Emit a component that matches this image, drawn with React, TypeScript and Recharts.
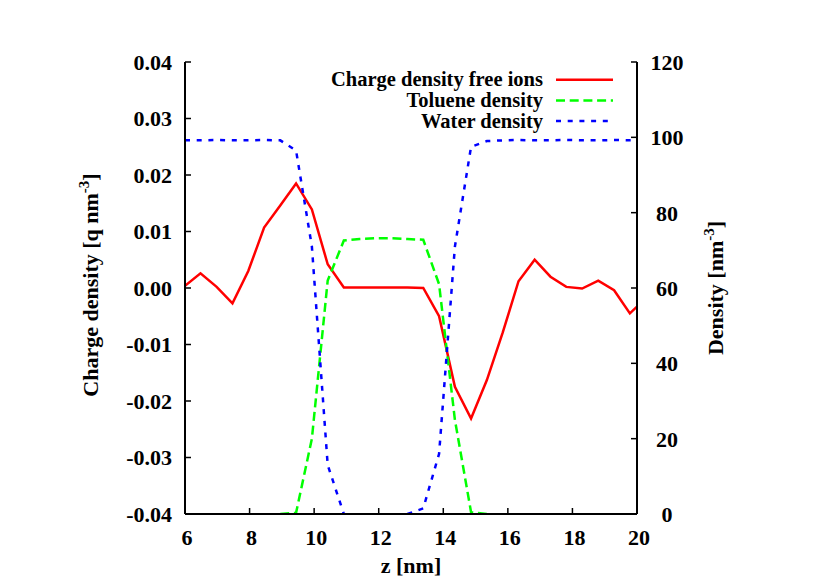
import React from 'react';
import { ComposedChart, Line, XAxis, YAxis, Legend, Label } from 'recharts';

// ---- data ----
const zValues = [6.0, 6.48, 6.98, 7.47, 7.96, 8.45, 8.95, 9.44, 9.93, 10.42, 10.92, 11.41, 11.9, 12.39, 12.89, 13.38, 13.87, 14.36, 14.86, 15.35, 15.84, 16.33, 16.83, 17.32, 17.81, 18.3, 18.8, 19.29, 19.78, 20.0];
const chargeDensity = [0.0004, 0.0026, 0.0002, -0.0027, 0.003, 0.0107, 0.0146, 0.0185, 0.0139, 0.0042, 0.0001, 0.0001, 0.0001, 0.0001, 0.0001, 0.0, -0.005, -0.0175, -0.0231, -0.0163, -0.0079, 0.0012, 0.005, 0.002, 0.0002, -0.0001, 0.0013, -0.0004, -0.0045, -0.0033];
const tolueneDensity: (number | null)[] = [null, null, null, null, null, null, 0, 0.3, 20, 62, 72.6, 73, 73.2, 73.2, 73, 72.8, 61, 25, 0.5, 0, null, null, null, null, null, null, null, null, null, null];
const waterDensity: (number | null)[] = [99.2, 99.2, 99.3, 99.2, 99.2, 99.3, 99.2, 96.5, 71, 13, 0, null, null, null, 0, 1.5, 16, 71, 97.5, 99, 99.2, 99.3, 99.2, 99.2, 99.3, 99.2, 99.2, 99.3, 99.2, 99.2];

const xTicks = [6, 8, 10, 12, 14, 16, 18, 20];
const leftTicks = [-0.04, -0.03, -0.02, -0.01, 0, 0.01, 0.02, 0.03, 0.04];
const rightTicks = [0, 20, 40, 60, 80, 100, 120];
const seriesNames = ['Charge density free ions', 'Toluene density', 'Water density'];
const titleText = '60 mV/nm';

const data = zValues.map((z, i) => ({
  z,
  charge: chargeDensity[i],
  toluene: tolueneDensity[i],
  water: waterDensity[i],
}));

// ---- styles ----
const FONT = '"Liberation Serif", "Times New Roman", serif';
const FS = 22;
const seriesStyles = [
  { key: 'charge', color: '#ff0000', dash: undefined as string | undefined, axis: 'left' },
  { key: 'toluene', color: '#00ff00', dash: '9 4.7', axis: 'right' },
  { key: 'water', color: '#0000ff', dash: '5 6.7', axis: 'right' },
];

const textProps = { fontFamily: FONT, fontWeight: 'bold' as const, fontSize: FS, fill: '#000' };

const LeftTick = (props: any) => {
  const { x, y, payload } = props;
  return (
    <text x={x} y={y} dy="0.36em" textAnchor="end" {...textProps}>
      {Number(payload.value).toFixed(2)}
    </text>
  );
};
const RightTick = (props: any) => {
  const { x, y, payload } = props;
  return (
    <text x={x} y={y} dy="0.36em" textAnchor="middle" {...textProps}>
      {String(payload.value)}
    </text>
  );
};
const BottomTick = (props: any) => {
  const { x, y, payload } = props;
  return (
    <text x={x + 2} y={y} dy="0.36em" textAnchor="middle" {...textProps}>
      {String(payload.value)}
    </text>
  );
};

const LegendContent = () => (
  <svg width={330} height={70} style={{ display: 'block' }}>
    {seriesNames.map((name, i) => {
      const s = seriesStyles[i];
      const lineY = 11.7 + i * 20.7;
      return (
        <g key={name}>
          <text x={235} y={lineY + 6.6} textAnchor="end" fontFamily={FONT} fontWeight="bold" fontSize={20.5} fill="#000">
            {name}
          </text>
          <line x1={248} x2={305} y1={lineY} y2={lineY} stroke={s.color} strokeWidth={2.5} strokeDasharray={s.dash} />
        </g>
      );
    })}
  </svg>
);

const axisLineStyle = { stroke: '#000', strokeWidth: 2 };
const tickLineStyle = { stroke: '#000', strokeWidth: 1.5 };

export default function App() {
  return (
    <div style={{ position: 'fixed', left: 0, top: 0, width: 830, height: 581, background: '#fff' }}>
      <ComposedChart
        width={830}
        height={581}
        data={data}
        margin={{ top: 62, right: 133, bottom: 37, left: 125 }}
      >
        <XAxis
          xAxisId="bottom"
          type="number"
          dataKey="z"
          domain={[6, 20]}
          ticks={xTicks}
          allowDataOverflow
          height={30}
          tickSize={-6}
          tickMargin={29}
          tick={<BottomTick />}
          axisLine={axisLineStyle}
          tickLine={tickLineStyle}
        >
          <Label
            content={() => (
              <text x={411} y={573} textAnchor="middle" {...textProps}>
                z [nm]
              </text>
            )}
          />
        </XAxis>
        <XAxis
          xAxisId="top"
          orientation="top"
          type="number"
          dataKey="z"
          domain={[6, 20]}
          ticks={xTicks}
          allowDataOverflow
          height={0}
          tickSize={-6}
          tick={false}
          axisLine={axisLineStyle}
          tickLine={tickLineStyle}
        >
          <Label
            content={() => (
              <text x={411} y={39} textAnchor="middle" {...textProps}>
                {titleText}
              </text>
            )}
          />
        </XAxis>
        <YAxis
          yAxisId="left"
          type="number"
          domain={[-0.04, 0.04]}
          ticks={leftTicks}
          allowDataOverflow
          width={60}
          tickSize={-6}
          tickMargin={19}
          tick={<LeftTick />}
          axisLine={axisLineStyle}
          tickLine={tickLineStyle}
        >
          <Label
            content={() => (
              <text
                x={97.5}
                y={285}
                transform="rotate(-90, 97.5, 285)"
                textAnchor="middle"
                {...textProps}
              >
                Charge density [q nm
                <tspan dy={-9} fontSize={15}>-3</tspan>
                <tspan dy={9}>]</tspan>
              </text>
            )}
          />
        </YAxis>
        <YAxis
          yAxisId="right"
          orientation="right"
          type="number"
          domain={[0, 120]}
          ticks={rightTicks}
          allowDataOverflow
          width={60}
          tickSize={-6}
          tickMargin={36}
          tick={<RightTick />}
          axisLine={axisLineStyle}
          tickLine={tickLineStyle}
        >
          <Label
            content={() => (
              <text
                x={722.5}
                y={288}
                transform="rotate(-90, 722.5, 288)"
                textAnchor="middle"
                {...textProps}
              >
                Density [nm
                <tspan dy={-9} fontSize={15}>-3</tspan>
                <tspan dy={9}>]</tspan>
              </text>
            )}
          />
        </YAxis>
        <Legend
          layout="vertical"
          align="center"
          verticalAlign="middle"
          content={<LegendContent />}
          wrapperStyle={{ position: 'absolute', left: 308, top: 68, width: 330, height: 70 }}
        />
        {seriesStyles.map((s, i) => (
          <Line
            key={s.key}
            xAxisId="bottom"
            yAxisId={s.axis}
            type="linear"
            dataKey={s.key}
            name={seriesNames[i]}
            stroke={s.color}
            strokeWidth={2.5}
            strokeDasharray={s.dash}
            dot={false}
            activeDot={false}
            connectNulls={false}
            isAnimationActive={false}
          />
        ))}
      </ComposedChart>
    </div>
  );
}
